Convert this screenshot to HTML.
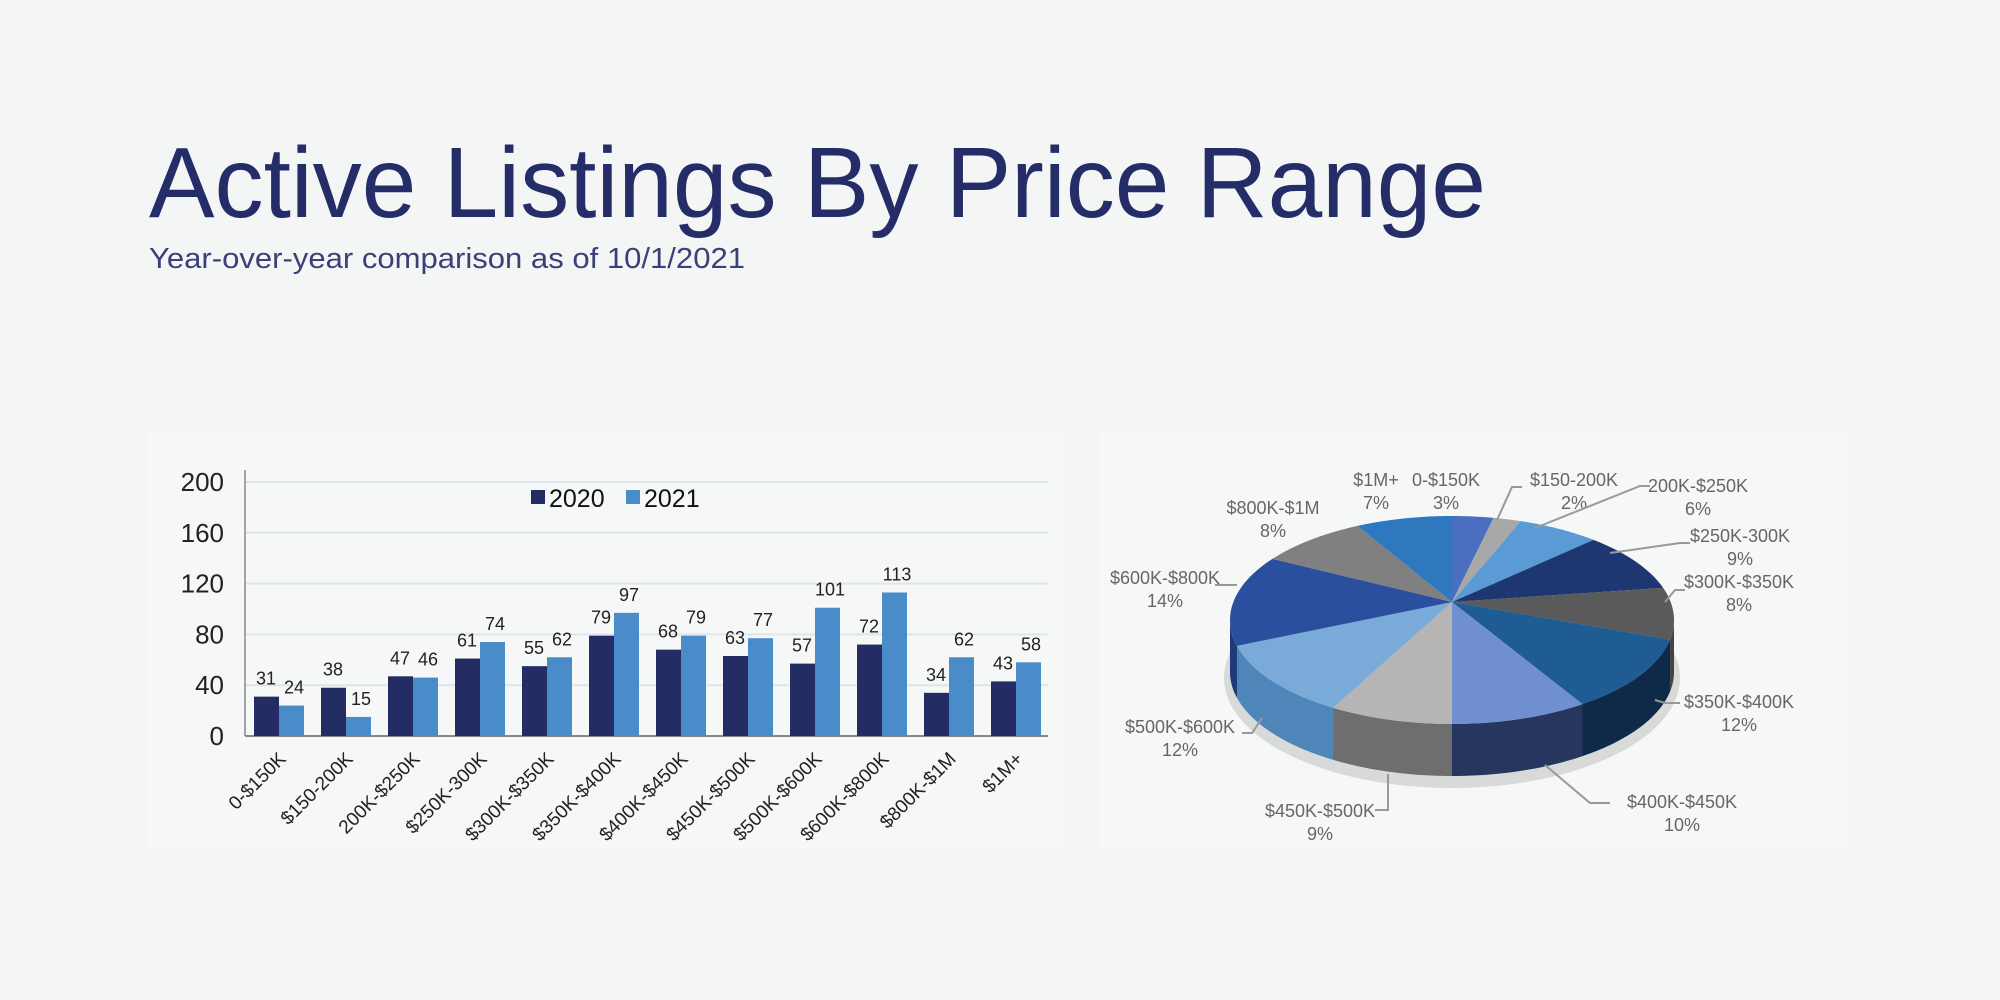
<!DOCTYPE html>
<html><head><meta charset="utf-8"><style>
html,body{margin:0;padding:0;background:#f4f5f5;}
svg{display:block;font-family:"Liberation Sans",sans-serif;}
</style></head><body>
<svg id="s" width="2000" height="1000" viewBox="0 0 2000 1000" xmlns="http://www.w3.org/2000/svg">
<rect width="2000" height="1000" fill="#f4f5f5"/>
<text x="149" y="217" font-size="100" fill="#252d68" textLength="1337" lengthAdjust="spacingAndGlyphs">Active Listings By Price Range</text>
<text x="149" y="268" font-size="29" fill="#3a4178" textLength="596" lengthAdjust="spacingAndGlyphs">Year-over-year comparison as of 10/1/2021</text>
<rect x="147" y="431" width="918" height="417" fill="#f6f8f8"/>
<rect x="1100" y="431" width="750" height="417" fill="#f6f8f8"/>
<g id="bar"></g>
<g id="pie"></g>
</svg>
<script>
(function(){
const NS="http://www.w3.org/2000/svg";
function el(p,t,a,txt){const e=document.createElementNS(NS,t);for(const k in a)e.setAttribute(k,a[k]);if(txt!==undefined)e.textContent=txt;p.appendChild(e);return e;}
const bar=document.getElementById('bar');
const x0=245,y0=736,k=1.27,gw=67;
for(let v=0;v<=200;v+=40){const y=y0-v*k;
 if(v>0)el(bar,'line',{x1:x0,x2:1048,y1:y,y2:y,stroke:'#dfe3ee','stroke-width':2});
 el(bar,'text',{x:224,y:y+9,'font-size':26,fill:'#222','text-anchor':'end'},v);}
el(bar,'line',{x1:x0,x2:x0,y1:470,y2:y0,stroke:'#888','stroke-width':1.5});
el(bar,'line',{x1:x0,x2:1048,y1:y0,y2:y0,stroke:'#888','stroke-width':2});
const cats=['0-$150K','$150-200K','200K-$250K','$250K-300K','$300K-$350K','$350K-$400K','$400K-$450K','$450K-$500K','$500K-$600K','$600K-$800K','$800K-$1M','$1M+'];
const a=[31,38,47,61,55,79,68,63,57,72,34,43],b=[24,15,46,74,62,97,79,77,101,113,62,58];
cats.forEach((c,i)=>{const gx=x0+gw*i;
 el(bar,'rect',{x:gx+9,y:y0-a[i]*k,width:25,height:a[i]*k,fill:'#232d63'});
 el(bar,'rect',{x:gx+34,y:y0-b[i]*k,width:25,height:b[i]*k,fill:'#4a8bca'});
 el(bar,'text',{x:gx+21,y:y0-a[i]*k-12,'font-size':18,fill:'#222','text-anchor':'middle'},a[i]);
 el(bar,'text',{x:gx+49,y:y0-b[i]*k-12,'font-size':18,fill:'#222','text-anchor':'middle'},b[i]);
 el(bar,'text',{x:gx+42,y:y0+24,'font-size':19,fill:'#222','text-anchor':'end',transform:`rotate(-45 ${gx+42} ${y0+24})`},c);
});
el(bar,'rect',{x:531,y:490,width:14,height:14,fill:'#232d63'});
el(bar,'text',{x:549,y:507,'font-size':25,fill:'#111'},'2020');
el(bar,'rect',{x:626,y:490,width:14,height:14,fill:'#4a8bca'});
el(bar,'text',{x:644,y:507,'font-size':25,fill:'#111'},'2021');

const pie=document.getElementById('pie');
const cx=1452,cy=620,rx=222,ry=104,d=52,ay=602;
const pct=[3,2,6,9,8,12,10,9,12,14,8,7];
const topc=['#4a6fc0','#a8a8a8','#5b9bd5','#1f3770','#5a5a5a','#205c94','#6f8fd0','#b5b5b5','#7aaad8','#2a4f9e','#808080','#2e78c0'];
const side=['#3a559a','#888','#4a7fb0','#16294f','#444','#0f2a48','#26365f','#6e6e6e','#4e86ba','#1f3a78','#606060','#215a94'];
function P(t,dy){return [cx+rx*Math.sin(t),cy-ry*Math.cos(t)+(dy||0)];}
el(pie,'ellipse',{cx:cx,cy:cy+d+6,rx:rx+6,ry:ry+6,fill:'#000',opacity:0.12});
let acc=0;const ang=[];
pct.forEach(p=>{ang.push([acc*2*Math.PI/100,(acc+p)*2*Math.PI/100]);acc+=p;});
ang.forEach(([s,e],i)=>{let s2=Math.max(s,Math.PI/2),e2=Math.min(e,3*Math.PI/2);if(e2<=s2)return;
 const N=24;let pts=[];for(let j=0;j<=N;j++)pts.push(P(s2+(e2-s2)*j/N));
 let pts2=[];for(let j=N;j>=0;j--)pts2.push(P(s2+(e2-s2)*j/N,d));
 el(pie,'polygon',{points:pts.concat(pts2).map(q=>q.join(',')).join(' '),fill:side[i]});});
ang.forEach(([s,e],i)=>{const N=30;let pts=[[cx,ay]];for(let j=0;j<=N;j++)pts.push(P(s+(e-s)*j/N));
 el(pie,'polygon',{points:pts.map(q=>q.join(',')).join(' '),fill:topc[i]});});
const labs=[['$1M+','7%',1376,480],['0-$150K','3%',1446,480],['$150-200K','2%',1574,480],['200K-$250K','6%',1698,486],['$800K-$1M','8%',1273,508],['$250K-300K','9%',1740,536],['$300K-$350K','8%',1739,582],['$600K-$800K','14%',1165,578],['$350K-$400K','12%',1739,702],['$500K-$600K','12%',1180,727],['$450K-$500K','9%',1320,811],['$400K-$450K','10%',1682,802]];
labs.forEach(([n,p,x,y])=>{el(pie,'text',{x:x,y:y+6,'font-size':18,fill:'#666','text-anchor':'middle'},n);el(pie,'text',{x:x,y:y+29,'font-size':18,fill:'#666','text-anchor':'middle'},p);});
const lines=[[1497,520,1512,487,1522,487],[1535,528,1640,486,1650,486],[1610,553,1680,543,1690,543],[1665,602,1675,590,1685,590],[1655,700,1665,703,1680,703],[1545,765,1590,803,1610,803],[1388,774,1388,810,1375,810],[1262,718,1252,733,1242,733],[1237,585,1225,585,1215,585]];
lines.forEach(l=>el(pie,'polyline',{points:`${l[0]},${l[1]} ${l[2]},${l[3]} ${l[4]},${l[5]}`,fill:'none',stroke:'#999','stroke-width':2}));
})();
</script>
</body></html>
